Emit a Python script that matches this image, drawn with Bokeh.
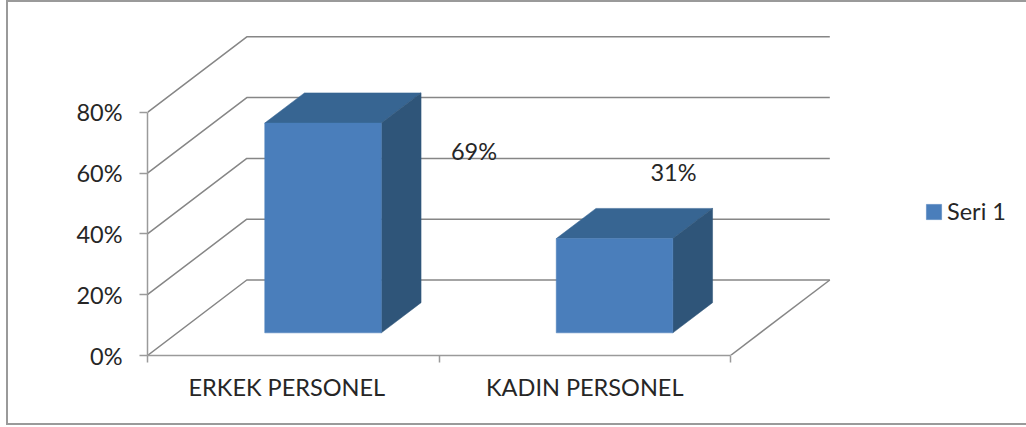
from bokeh.plotting import figure
from bokeh.embed import file_html
from bokeh.layouts import column
from bokeh.resources import INLINE
from bokeh.models import (ColumnDataSource, Div, FixedTicker, Legend, LegendItem,
                          LinearAxis, Range1d)

# ---- data ----
categories = ["ERKEK PERSONEL", "KADIN PERSONEL"]
series_name = "Seri 1"
values = [69, 31]
y_ticks = [0, 20, 40, 60, 80]
y_tick_labels = ["0%", "20%", "40%", "60%", "80%"]

# ---- layout of the pseudo-3D projection ----
W, H = 1026, 427
LEFT, BOTTOM_PX = 147, 355      # pixel position of the chart origin
PX_X, PX_Y = 291.5, 3.04        # pixels per category / per percent
DX, DY = 99.3 / PX_X, 75.5 / PX_Y  # depth vector of the back wall, data units
BAR_LO, BAR_HI = 0.3, 0.7       # bar share of the slot, and of the depth

FRONT = "#4a7ebb"
TOP = "#376592"
SIDE = "#2f5579"
GRID = "#868686"
AXIS = "#9a9a9a"
TEXT = "#262626"
FONT = "Lato"
FS = "23.5px"

def proj(x, y, d):
    return x + d * DX, y + d * DY

p = figure(width=W, height=H, output_backend="svg", toolbar_location=None,
           x_range=Range1d(0, (W - LEFT) / PX_X),
           y_range=Range1d(0, BOTTOM_PX / PX_Y),
           min_border_left=LEFT, min_border_right=0, min_border_top=0,
           min_border_bottom=H - BOTTOM_PX,
           x_axis_type=None, y_axis_type=None,
           outline_line_color=None,
           background_fill_color="white", border_fill_color="white")
p.grid.visible = False

# walls
n = len(categories)
xs, ys = [], []
for t in y_ticks:
    fx, fy = proj(0, t, 0)
    bx, by = proj(0, t, 1)
    ex, ey = proj(n, t, 1)
    xs.append([fx, bx, ex]); ys.append([fy, by, ey])
fx, fy = proj(n, 0, 0)
ex, ey = proj(n, 0, 1)
xs.append([fx, ex]); ys.append([fy, ey])
p.multi_line(xs, ys, line_color=GRID, line_width=1.5)

# bars
top_x, top_y, side_x, side_y = [], [], [], []
l, r, t, b = [], [], [], []
for i, v in enumerate(values):
    x0, x1 = i + BAR_LO, i + BAR_HI
    a = proj(x0, v, BAR_LO); c = proj(x1, v, BAR_LO)
    d = proj(x1, v, BAR_HI); e = proj(x0, v, BAR_HI)
    f = proj(x1, 0, BAR_LO); g = proj(x1, 0, BAR_HI)
    top_x.append([a[0], c[0], d[0], e[0]]); top_y.append([a[1], c[1], d[1], e[1]])
    side_x.append([c[0], d[0], g[0], f[0]]); side_y.append([c[1], d[1], g[1], f[1]])
    l.append(a[0]); r.append(c[0]); t.append(a[1]); b.append(f[1])
p.patches(top_x, top_y, fill_color=TOP, line_color=TOP, line_width=0.5)
p.patches(side_x, side_y, fill_color=SIDE, line_color=SIDE, line_width=0.5)
front = p.quad(left=l, right=r, top=t, bottom=b, fill_color=FRONT,
               line_color=FRONT, line_width=0.5)

# data labels (hand placed off the bars, as in the source chart)
lab = ColumnDataSource(dict(
    x=[(a + c) / 2 for a, c in zip(l, r)], y=t,
    text=[f"{v}%" for v in values],
    xo=[151, 59], yo=[28, -67]))
p.text("x", "y", text="text", source=lab, x_offset="xo", y_offset="yo",
       text_align="center", text_baseline="middle", text_font={"value": FONT},
       text_font_size=FS, text_color=TEXT)

# axes
ya = LinearAxis(bounds=(0, 80), ticker=FixedTicker(ticks=y_ticks),
                major_label_overrides=dict(zip(y_ticks, y_tick_labels)),
                axis_line_color=AXIS, axis_line_width=1.5,
                major_tick_line_color=AXIS, major_tick_line_width=1.5,
                major_tick_out=8, major_tick_in=0, minor_tick_out=0, minor_tick_in=0,
                major_label_standoff=17, major_label_text_font=FONT,
                major_label_text_font_size=FS, major_label_text_color=TEXT)
p.add_layout(ya, "left")

label_pos = [0.478, 1.5]
xa = LinearAxis(bounds=(0, n),
                ticker=FixedTicker(ticks=label_pos, minor_ticks=list(range(n + 1))),
                major_label_overrides=dict(zip(label_pos, categories)),
                axis_line_color=AXIS, axis_line_width=1.5,
                major_tick_out=0, major_tick_in=0,
                minor_tick_line_color=AXIS, minor_tick_line_width=1.5,
                minor_tick_out=7, minor_tick_in=0,
                major_label_standoff=10, major_label_text_font=FONT,
                major_label_text_font_size=FS, major_label_text_color=TEXT)
p.add_layout(xa, "below")

# legend
leg = Legend(items=[LegendItem(label=series_name, renderers=[front])],
             location=(777, 130), orientation="vertical",
             glyph_width=19, glyph_height=19, label_standoff=4, padding=0, margin=0,
             spacing=0, border_line_color=None, background_fill_alpha=0,
             label_text_font=FONT, label_text_font_size=FS, label_text_color=TEXT)
p.add_layout(leg, "center")

# chart border, laid over the figure
border = Div(text="", width=W - 6, height=425, margin=0,
             styles={"position": "absolute", "left": "6px", "top": "0px",
                     "box-sizing": "border-box", "pointer-events": "none",
                     "border-left": f"2px solid {AXIS}", "border-top": f"2px solid {AXIS}",
                     "border-bottom": f"2px solid {AXIS}"})

root = column(p, border, spacing=0, margin=0, styles={"position": "relative"})
open("out.html", "w").write(file_html(root, INLINE))
